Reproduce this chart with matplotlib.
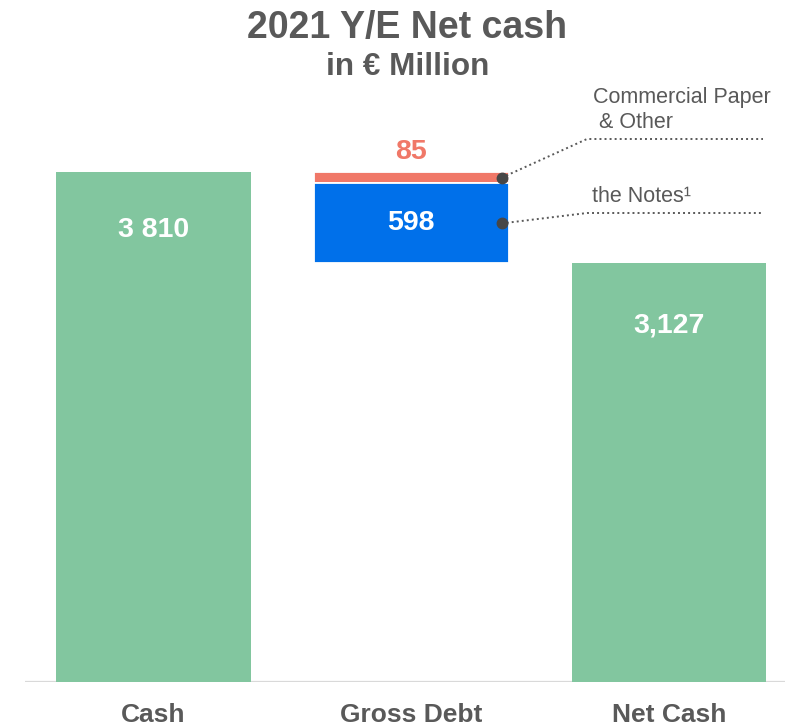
import matplotlib
matplotlib.use("Agg")
import matplotlib.pyplot as plt
from matplotlib.lines import Line2D

plt.rcParams['font.family'] = ['Liberation Sans', 'DejaVu Sans']

# ---- data ----
categories = ["Cash", "Gross Debt", "Net Cash"]
cash = 3810
cp_other = 85
notes = 598
net_cash = 3127
cash_label = "3 810"
cp_label = "85"
notes_label = "598"
net_label = "3,127"
cp_name = ["Commercial Paper", " & Other"]
notes_name = "the Notes\u00b9"

# ---- style ----
green = "#82C69F"
blue = "#0070EA"
red = "#F07868"
gray = "#595959"
dotc = "#474747"

W, H = 785, 726
fig = plt.figure(figsize=(W / 100, H / 100), dpi=100)

def fx(px):
    return px / W

def fy(py):
    return 1 - py / H

ax_top_px, ax_bot_px = 90, 682
ax = fig.add_axes([fx(25), fy(ax_bot_px), fx(785 - 25), (ax_bot_px - ax_top_px) / H])
ax.set_xlim(-0.4985, 2.45)
ax.set_ylim(0, cash * (ax_bot_px - ax_top_px) / (ax_bot_px - 172))
for s in ax.spines.values():
    s.set_visible(False)
ax.set_yticks([])

bw = 0.756
ax.axhline(0, color="#D9D9D9", lw=1.6, zorder=1)
ax.bar(0, cash, width=bw, color=green, zorder=2)
ax.bar(1, cp_other, bottom=cash - cp_other, width=bw, color=red,
       edgecolor="white", linewidth=1.3, zorder=2)
ax.bar(1, notes, bottom=cash - cp_other - notes, width=bw, color=blue,
       edgecolor="white", linewidth=1.3, zorder=2)
ax.bar(2, net_cash, width=bw, color=green, zorder=2)

ax.set_xticks(range(len(categories)))
ax.set_xticklabels(categories, fontsize=19, fontweight="bold", color=gray)
ax.tick_params(axis="x", length=0, pad=15)

lab_kw = dict(textcoords="offset points", ha="center", va="center",
              fontsize=20.5, fontweight="bold")
ax.annotate(cash_label, (0, cash), xytext=(0, -42), color="white", **lab_kw)
ax.annotate(cp_label, (1, cash), xytext=(0, 14.5), color=red, **lab_kw)
ax.annotate(notes_label, (1, cash - cp_other - notes / 2), xytext=(0, 0),
            color="white", **lab_kw)
ax.annotate(net_label, (2, net_cash), xytext=(0, -45), color="white", **lab_kw)

# titles
fig.text(fx(407), fy(28), "2021 Y/E Net cash", ha="center", va="center",
         fontsize=27, fontweight="bold", color=gray)
fig.text(fx(408), fy(67), "in \u20ac Million", ha="center", va="center",
         fontsize=22.7, fontweight="bold", color=gray)

# leader lines
fig.canvas.draw()
inv = fig.transFigure.inverted()

def leader(ydata, elbow_py):
    dx, dy = ax.transData.transform((1 + bw / 2, ydata))
    dx -= 7
    x0, y0 = inv.transform((dx, dy))
    xs = [x0, fx(587), fx(763)]
    ys = [y0, fy(elbow_py), fy(elbow_py)]
    fig.add_artist(Line2D(xs, ys, transform=fig.transFigure, color=gray,
                          lw=1.4, linestyle=(0, (1, 1.6))))
    fig.add_artist(Line2D([x0], [y0], transform=fig.transFigure, marker="o",
                          markersize=7.5, color=dotc, linestyle="none"))

leader(cash - cp_other / 2, 139)
leader(cash - cp_other - notes / 2, 213)

fig.text(fx(593), fy(97), cp_name[0], ha="left", va="center", fontsize=15.5,
         color=gray)
fig.text(fx(593), fy(123), cp_name[1], ha="left", va="center", fontsize=15.5,
         color=gray)
fig.text(fx(592), fy(196), notes_name, ha="left", va="center", fontsize=15.5,
         color=gray)

fig.savefig("out.png", dpi=100)
